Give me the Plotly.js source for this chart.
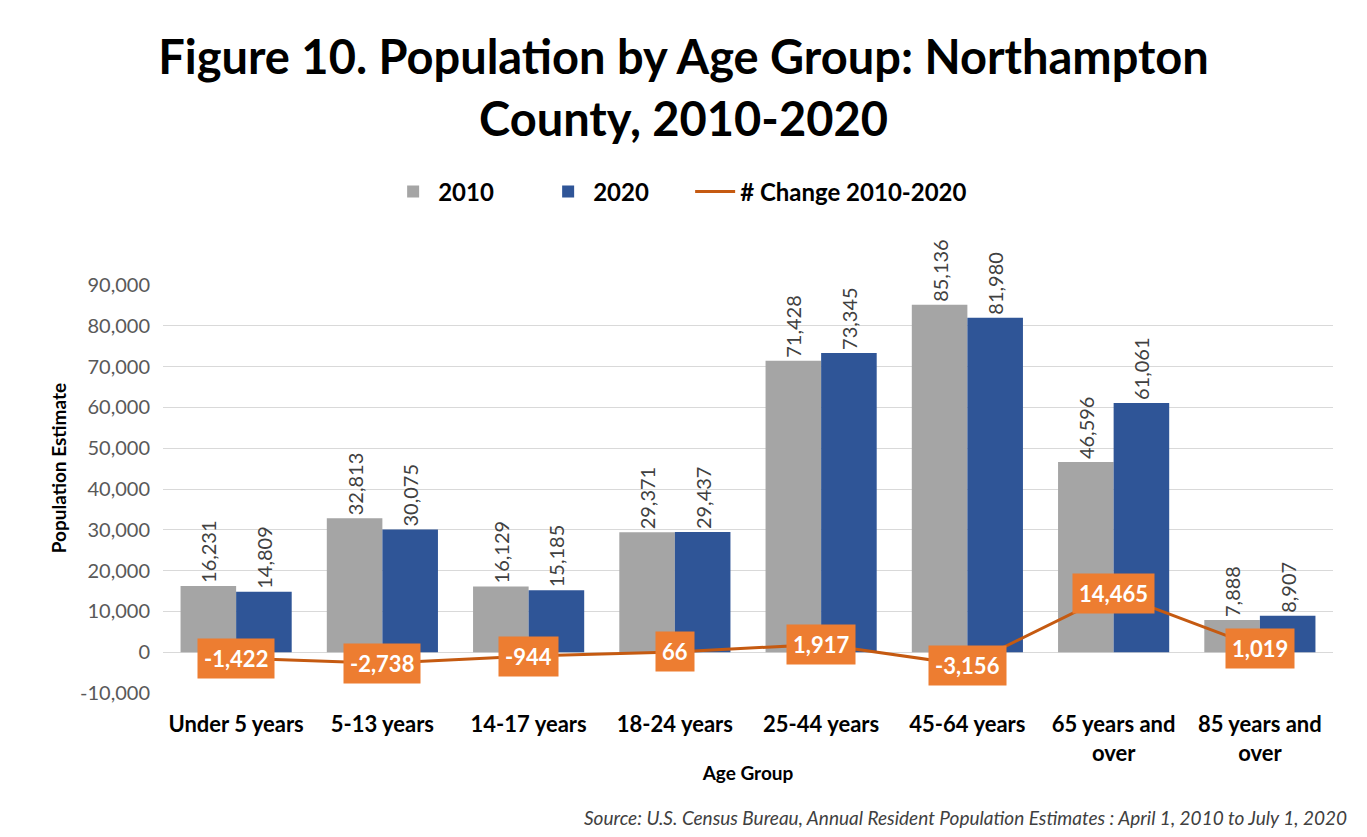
<!DOCTYPE html>
<html>
<head>
<meta charset="utf-8">
<script src="https://cdn.plot.ly/plotly-3.0.1.min.js"></script>
<style>html,body{margin:0;padding:0;background:#fff;}#chart{width:1367px;height:837px;}</style>
</head>
<body>
<div id="chart"></div>
<script>
const categories = ["Under 5 years", "5-13 years", "14-17 years", "18-24 years", "25-44 years", "45-64 years", "65 years and<br>over", "85 years and<br>over"];
const pop2010 = [16231, 32813, 16129, 29371, 71428, 85136, 46596, 7888];
const pop2020 = [14809, 30075, 15185, 29437, 73345, 81980, 61061, 8907];
const change = [-1422, -2738, -944, 66, 1917, -3156, 14465, 1019];
const yTickVals = [-10000, 0, 10000, 20000, 30000, 40000, 50000, 60000, 70000, 80000, 90000];
const yTickText = ["-10,000", "0", "10,000", "20,000", "30,000", "40,000", "50,000", "60,000", "70,000", "80,000", "90,000"];

const fmt = v => v.toLocaleString('en-US');
const FONT = 'Lato, "Open Sans", sans-serif';

const traces = [
  {
    type: 'bar', name: '<b>2010</b>', x: categories, y: pop2010,
    marker: {color: '#A5A5A5'}, legendwidth: 100,
    text: pop2010.map(fmt), textposition: 'outside', textangle: -90,
    constraintext: 'none', cliponaxis: false,
    textfont: {color: '#404040', size: 20, family: FONT}
  },
  {
    type: 'bar', name: '<b>2020</b>', x: categories, y: pop2020,
    marker: {color: '#2F5597'}, legendwidth: 92,
    text: pop2020.map(fmt), textposition: 'outside', textangle: -90,
    constraintext: 'none', cliponaxis: false,
    textfont: {color: '#404040', size: 20, family: FONT}
  },
  {
    type: 'scatter', mode: 'lines', name: '<b># Change 2010-2020</b>', x: categories, y: change,
    line: {color: '#C55A11', width: 3}, cliponaxis: false
  }
];

const annotations = categories.map((c, i) => ({
  x: c, y: change[i], xref: 'x', yref: 'y',
  text: '<b>' + fmt(change[i]) + '</b>', showarrow: false,
  bgcolor: '#ED7D31', borderpad: 6,
  font: {color: '#FFFFFF', size: 22, family: FONT}
}));
annotations.push({
  xref: 'paper', yref: 'paper', x: 1.014, y: -0.305, xanchor: 'right', yanchor: 'middle',
  text: '<i>Source: U.S. Census Bureau, Annual Resident Population Estimates : April 1, 2010 to July 1, 2020</i>',
  showarrow: false, font: {color: '#404040', size: 19, family: FONT}
});
annotations.push({
  xref: 'paper', yref: 'paper', x: -0.0897, y: 0.551, xanchor: 'center', yanchor: 'middle',
  text: '<b>Population Estimate</b>', textangle: -90, showarrow: false,
  font: {color: '#000000', size: 19, family: FONT}
});

const layout = {
  width: 1367, height: 837,
  paper_bgcolor: '#FFFFFF', plot_bgcolor: '#FFFFFF',
  font: {family: FONT, color: '#404040'},
  margin: {l: 163, r: 34, t: 285, b: 144},
  title: {
    text: '<b>Figure 10. Population by Age Group: Northampton<br>County, 2010-2020</b>',
    x: 0.5, xref: 'container', y: 0.911, yref: 'container', yanchor: 'middle',
    font: {size: 47, color: '#000000', family: FONT}
  },
  barmode: 'group', bargap: 0.24, bargroupgap: 0,
  showlegend: true,
  legend: {
    orientation: 'h', x: 0.442, xanchor: 'center', y: 1.228, yanchor: 'middle',
    font: {size: 24, color: '#000000', family: FONT}, traceorder: 'normal',
    itemwidth: 40
  },
  xaxis: {
    type: 'category', showgrid: false, zeroline: false, showline: false,
    tickfont: {size: 22, color: '#000000', family: FONT},
    ticklabelstandoff: 16,
    title: {text: '<b>Age Group</b>', font: {size: 19, color: '#000000', family: FONT}, standoff: 2},
    tickprefix: '<b>', ticksuffix: '</b>'
  },
  yaxis: {
    range: [-10000, 90000], tickvals: yTickVals, ticktext: yTickText,
    showgrid: true, gridcolor: '#D9D9D9', gridwidth: 1,
    zeroline: true, zerolinecolor: '#D9D9D9', zerolinewidth: 1,
    tickfont: {size: 20, color: '#595959', family: FONT},
    ticklabelstandoff: 12
  },
  annotations: annotations
};

Plotly.newPlot('chart', traces, layout, {displayModeBar: false, staticPlot: true});
</script>
</body>
</html>
